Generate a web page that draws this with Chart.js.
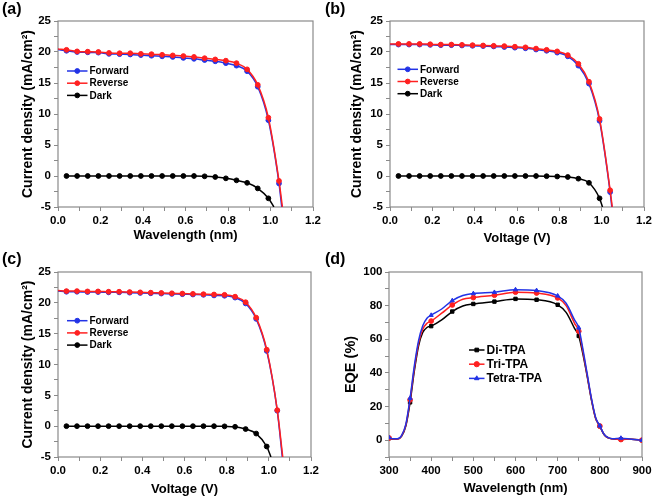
<!DOCTYPE html>
<html>
<head>
<meta charset="utf-8">
<script src="https://cdn.jsdelivr.net/npm/chart.js@4.4.1/dist/chart.umd.min.js"></script>
<style>
  body { margin: 0; background: #fff; }
  #wrap { position: relative; width: 655px; height: 498px; }
  canvas { position: absolute; }
  .tag { position: absolute; font: bold 16px "Liberation Sans", Arial, sans-serif; line-height: 16px; }
</style>
</head>
<body>
<div id="wrap">
  <canvas id="ca" width="327" height="249" style="left:0;top:0"></canvas>
  <canvas id="cb" width="328" height="249" style="left:327px;top:0"></canvas>
  <canvas id="cc" width="327" height="249" style="left:0;top:249px"></canvas>
  <canvas id="cd" width="328" height="249" style="left:327px;top:249px"></canvas>
  <div class="tag" style="left:2px;top:1px">(a)</div>
  <div class="tag" style="left:325px;top:1px">(b)</div>
  <div class="tag" style="left:2px;top:251px">(c)</div>
  <div class="tag" style="left:325px;top:251px">(d)</div>
</div>
<script>
// voltages where the J-V markers sit
const volts = [0.04, 0.09, 0.14, 0.19, 0.24, 0.29, 0.34, 0.39, 0.44, 0.49, 0.54,
               0.59, 0.64, 0.69, 0.74, 0.79, 0.84, 0.89, 0.94, 0.99, 1.04];

// (a)
const aForward = [20.2, 20.0, 19.95, 19.9, 19.7, 19.65, 19.6, 19.5, 19.4, 19.3, 19.2,
                  19.05, 18.9, 18.7, 18.5, 18.2, 17.8, 16.9, 14.4, 9.0, -1.2];
const aReverse = [20.35, 20.1, 20.05, 20.0, 19.85, 19.8, 19.8, 19.7, 19.65, 19.55, 19.45,
                  19.35, 19.2, 19.0, 18.8, 18.6, 18.2, 17.2, 14.7, 9.4, -0.8];
const aDark = [0, 0, 0, 0, 0, 0, 0, 0, 0, 0, 0, 0, 0, -0.05, -0.16, -0.38, -0.7, -1.1, -2.0, -3.6];
const aStart = [20.4, 20.5];          // forward, reverse at 0 V
const aEnd = [1.053, 1.056, 1.016];   // V where each curve reaches -5

// (b)
const bForward = [21.2, 21.2, 21.2, 21.15, 21.1, 21.1, 21.05, 21.0, 20.95, 20.9, 20.8,
                  20.7, 20.6, 20.4, 20.2, 19.9, 19.3, 17.8, 14.9, 8.9, -2.6];
const bReverse = [21.3, 21.3, 21.3, 21.25, 21.2, 21.2, 21.15, 21.1, 21.05, 21.0, 20.95,
                  20.85, 20.75, 20.55, 20.35, 20.1, 19.5, 18.1, 15.2, 9.2, -2.3];
const bDark = [0, 0, 0, 0, 0, 0, 0, 0, 0, 0, 0, 0, 0, 0, -0.03, -0.08, -0.16, -0.43, -1.1, -3.6];
const bStart = [21.2, 21.3];
const bEnd = [1.048, 1.05, 1.004];

// (c)
const cForward = [21.8, 21.8, 21.75, 21.75, 21.7, 21.7, 21.65, 21.6, 21.55, 21.5, 21.45,
                  21.4, 21.35, 21.3, 21.2, 21.15, 20.85, 19.9, 17.4, 12.2, 2.5];
const cReverse = [21.9, 21.9, 21.85, 21.85, 21.8, 21.8, 21.75, 21.7, 21.65, 21.6, 21.55,
                  21.5, 21.45, 21.4, 21.35, 21.3, 21.0, 20.1, 17.6, 12.4, 2.6];
const cDark = [0, 0, 0, 0, 0, 0, 0, 0, 0, 0, 0, 0, 0, 0, 0, -0.03, -0.1, -0.47, -1.2, -3.3];
const cStart = [21.9, 22.0];
const cEnd = [1.064, 1.066, 1.01];

// (d) EQE, markers every 50 nm
const wl = [300, 310, 320, 330, 340, 350, 360, 370, 380, 390, 400, 425, 450, 475, 500, 550,
            600, 650, 700, 720, 740, 750, 760, 770, 780, 790, 800, 810, 820, 830, 850, 875, 900];
const diTPA = [1.2, 0.7, 0.7, 2.4, 8.5, 22.5, 41, 56, 64, 67, 67.8, 71.5, 76.5, 79.8, 81, 82.4,
               84, 83.5, 80.5, 76, 66.5, 62, 51, 38, 24, 13, 8.3, 3.4, 1.4, 0.8, 0.5, 0.5, 0];
const triTPA = [1.3, 0.7, 0.7, 2.6, 9, 24, 42.5, 57.5, 66, 69.5, 70.8, 75.5, 80.4, 83.8, 84.8, 86.2,
                88, 87.5, 84.6, 80, 69.5, 64.8, 52.5, 38.5, 24.5, 13, 8.4, 3.4, 1.4, 0.8, 0.4, 0.6, 0];
const tetraTPA = [1.5, 0.8, 0.8, 2.8, 9.5, 25, 44, 59, 68, 72.5, 74.3, 78, 83, 86, 87.2, 87.9,
                  89.5, 89, 85.8, 81.4, 71.5, 66.8, 54, 39.5, 25, 13.5, 8.5, 3.5, 1.5, 0.9, 1.2, 0.6, 0];

const FONT = '"Liberation Sans", Arial, sans-serif';
Chart.defaults.font.family = FONT;
Chart.defaults.color = '#000';

const BLUE = '#2233e6';
const RED = '#ff2020';

function jvPoints(start, vals, end) {
  const pts = [];
  if (start !== null) pts.push({ x: 0, y: start });
  vals.forEach((y, i) => pts.push({ x: volts[i], y: y, m: true }));
  pts.push({ x: end, y: -5 });
  return pts;
}

function eqePoints(vals) {
  return wl.map((x, i) => ({ x: x, y: vals[i], m: x % 50 === 0 }));
}

const frame = {
  id: 'frame',
  beforeDatasetsDraw(chart) {
    const { ctx, chartArea: a } = chart;
    ctx.save();
    ctx.strokeStyle = '#8a8a8a';
    ctx.lineWidth = 1.2;
    ctx.strokeRect(a.left, a.top, a.width, a.height);
    ctx.restore();
  }
};

const insideLegend = {
  id: 'insideLegend',
  afterDatasetsDraw(chart, args, o) {
    const { ctx, chartArea } = chart;
    const x0 = chartArea.left + o.x;
    const y0 = chartArea.top + o.y;
    ctx.save();
    ctx.font = 'bold ' + o.size + 'px ' + FONT;
    ctx.textBaseline = 'middle';
    o.order.forEach((di, row) => {
      const ds = chart.data.datasets[di];
      const y = y0 + row * o.rowH;
      ctx.strokeStyle = ds.borderColor;
      ctx.lineWidth = ds.borderWidth;
      ctx.beginPath();
      ctx.moveTo(x0, y);
      ctx.lineTo(x0 + o.len, y);
      ctx.stroke();
      ctx.fillStyle = ds.borderColor;
      ctx.lineWidth = 1;
      Chart.helpers.drawPoint(ctx, { pointStyle: ds.pointStyle || 'circle', radius: o.r, borderWidth: 1, rotation: 0 },
        x0 + o.len / 2, y);
      ctx.fillStyle = '#000';
      ctx.fillText(ds.label, x0 + o.len + o.gap, y + 0.5);
    });
    ctx.restore();
  }
};

function series(label, color, data, style, order) {
  return {
    label: label,
    data: data,
    borderColor: color,
    backgroundColor: color,
    borderWidth: 1.5,
    pointStyle: style,
    pointRadius: c => (c.raw && c.raw.m ? 2.4 : 0),
    pointBorderWidth: 1,
    cubicInterpolationMode: 'monotone',
    order: order
  };
}

function axis(min, max, step, label, fmt, titlePad, size, titleSize, tickPad) {
  return {
    type: 'linear',
    min: min, max: max,
    border: { display: false },
    grid: { drawOnChartArea: false, drawTicks: true, tickLength: 4, color: '#8a8a8a' },
    ticks: { stepSize: step, autoSkip: false, maxRotation: 0, padding: tickPad,
             font: { size: 11.5, weight: 'bold' }, callback: fmt },
    title: { display: true, text: label, padding: titlePad, font: { size: titleSize, weight: 'bold' } },
    afterFit: s => { if (s.isHorizontal()) s.height = size; else s.width = size; }
  };
}

const fmtV = v => (Math.round(v * 10) % 2 === 0 ? v.toFixed(1) : '');
const fmtJ = v => (v % 5 === 0 ? String(v) : '');

function jvChart(id, xLabel, fwd, rev, dark, start, end, lay) {
  new Chart(document.getElementById(id), {
    type: 'line',
    data: {
      datasets: [
        series('Forward', BLUE, jvPoints(start[0], fwd, end[0]), 'circle', 2),
        series('Reverse', RED, jvPoints(start[1], rev, end[1]), 'circle', 1),
        series('Dark', '#000', jvPoints(null, dark, end[2]), 'circle', 0)
      ]
    },
    options: {
      responsive: false,
      animation: false,
      devicePixelRatio: 1,
      layout: { padding: { top: lay.top, right: lay.right, left: 0, bottom: 0 } },
      scales: {
        x: axis(0, 1.2, 0.1, xLabel, fmtV, { top: 0, bottom: lay.xt }, lay.xh, 13, 3),
        y: axis(-5, 25, 2.5, 'Current density (mA/cm²)', fmtJ, { top: lay.yt, bottom: 0 }, lay.yw, 14, 3)
      },
      plugins: {
        legend: { display: false },
        tooltip: { enabled: false },
        insideLegend: { x: lay.lx, y: lay.ly, len: 20.5, gap: 2, rowH: 12.2, size: 10, r: 2.4, order: [0, 1, 2] }
      }
    },
    plugins: [frame, insideLegend]
  });
}

jvChart('ca', 'Wavelength (nm)', aForward, aReverse, aDark, aStart, aEnd,
  { top: 21, right: 14, xh: 42, yw: 58, xt: 6, yt: 19.5, lx: 9, ly: 50 });
jvChart('cb', 'Voltage (V)', bForward, bReverse, bDark, bStart, bEnd,
  { top: 21, right: 11, xh: 42, yw: 63, xt: 3, yt: 21.5, lx: 7.5, ly: 48.3 });
jvChart('cc', 'Voltage (V)', cForward, cReverse, cDark, cStart, cEnd,
  { top: 23, right: 16, xh: 41, yw: 58, xt: 1, yt: 19.5, lx: 9, ly: 48.7 });

new Chart(document.getElementById('cd'), {
  type: 'line',
  data: {
    datasets: [
      series('Di-TPA', '#000', eqePoints(diTPA), 'rect', 2),
      series('Tri-TPA', RED, eqePoints(triTPA), 'circle', 1),
      series('Tetra-TPA', BLUE, eqePoints(tetraTPA), 'triangle', 0)
    ]
  },
  options: {
    responsive: false,
    animation: false,
    devicePixelRatio: 1,
    layout: { padding: { top: 23, right: 13, left: 0, bottom: 0 } },
    scales: {
      x: axis(300, 900, 50, 'Wavelength (nm)', v => (v % 100 === 0 ? String(v) : ''), { top: 0, bottom: 2 }, 41, 13, 3),
      y: axis(-10, 100, 10, 'EQE (%)', v => (v >= 0 && v % 20 === 0 ? String(v) : ''), { top: 15, bottom: 0 }, 62, 14.5, 2.5)
    },
    plugins: {
      legend: { display: false },
      tooltip: { enabled: false },
      insideLegend: { x: 80, y: 78, len: 15.5, gap: 2, rowH: 14.2, size: 12, r: 2.6, order: [0, 1, 2] }
    }
  },
  plugins: [frame, insideLegend]
});
</script>
</body>
</html>
